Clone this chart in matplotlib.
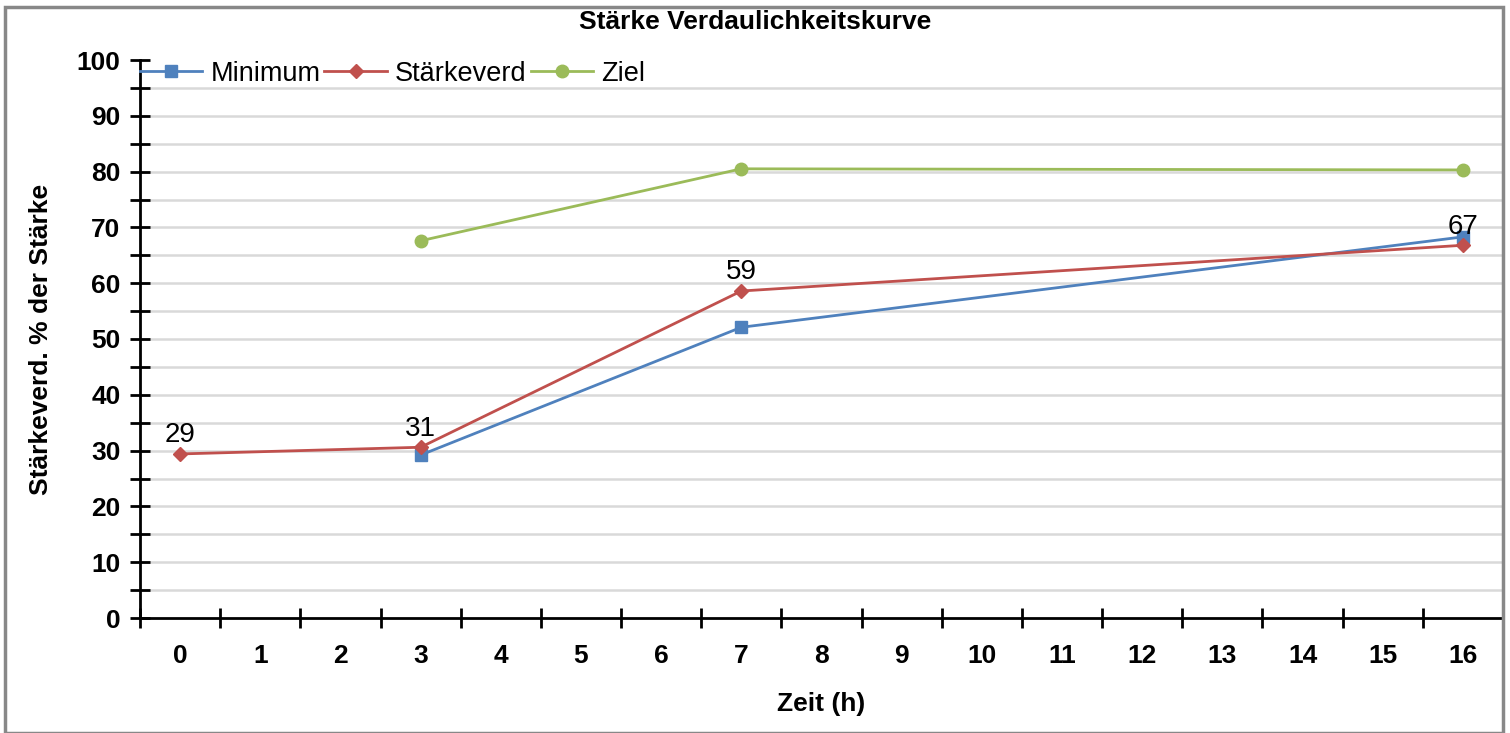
import matplotlib
matplotlib.use("Agg")
import matplotlib.pyplot as plt
from matplotlib.patches import Rectangle
import numpy as np

plt.rcParams['font.family'] = ['Liberation Sans', 'DejaVu Sans']

categories = ['0', '1', '2', '3', '4', '5', '6', '7', '8', '9', '10', '11', '12', '13', '14', '15', '16']
minimum_idx = [3, 7, 16]
minimum_val = [29.2, 52.1, 68.3]
staerke_idx = [0, 3, 7, 16]
staerke_val = [29.4, 30.6, 58.6, 66.8]
ziel_idx = [3, 7, 16]
ziel_val = [67.6, 80.5, 80.3]

W, H = 1510, 733
fig = plt.figure(figsize=(W / 100, H / 100), dpi=100)
ax = fig.add_axes([140 / W, 1 - 618 / H, (1503 - 140) / W, (618 - 60) / H])

blue = '#4F81BD'
red = '#C0504D'
green = '#9BBB59'

ax.plot(minimum_idx, minimum_val, color=blue, lw=2, marker='s', ms=9, label='Minimum', zorder=3)
ax.plot(staerke_idx, staerke_val, color=red, lw=2, marker='D', ms=7, label='Stärkeverd', zorder=4)
ax.plot(ziel_idx, ziel_val, color=green, lw=2, marker='o', ms=9, label='Ziel', zorder=3)

for xi, v in zip(staerke_idx, staerke_val):
    ax.annotate(f'{v:.0f}', (xi, v), textcoords='offset points', xytext=(0, 13.5),
                ha='center', va='center', fontsize=20, zorder=5)

ax.set_xlim(-0.5, len(categories) - 0.5)
ax.set_ylim(0, 100)

ax.set_xticks(np.arange(len(categories)))
ax.set_xticklabels(categories, fontsize=19, fontweight='bold')
ax.set_xticks(np.arange(-0.5, len(categories) - 1, 1), minor=True)
ax.tick_params(axis='x', which='major', length=0, pad=19)
ax.tick_params(axis='x', which='minor', length=14, width=2, direction='inout', color='black')

ax.set_yticks(np.arange(0, 101, 10))
ax.set_yticklabels([str(v) for v in range(0, 101, 10)], fontsize=19, fontweight='bold')
ax.set_yticks(np.arange(5, 100, 10), minor=True)
ax.tick_params(axis='y', which='both', length=14, width=2, direction='inout', color='black', pad=7)

for g in np.arange(5, 100, 5):
    ax.axhline(g, color='#D9D9D9', lw=1.8, zorder=0)

for s in ['top', 'right']:
    ax.spines[s].set_visible(False)
for s in ['left', 'bottom']:
    ax.spines[s].set_linewidth(2)
    ax.spines[s].set_color('black')

ax.set_xlabel('Zeit (h)', fontsize=19, fontweight='bold', labelpad=17)
ax.set_ylabel('Stärkeverd. % der Stärke', fontsize=19, fontweight='bold', labelpad=17)

fig.text(755 / W, 1 - 22 / H, 'Stärke Verdaulichkeitskurve', ha='center', va='center',
         fontsize=19, fontweight='bold')

leg = ax.legend(loc='center left', bbox_to_anchor=(0.0, 0.975), ncol=3, frameon=False,
                fontsize=19.5, handlelength=2.3, handletextpad=0.3, columnspacing=0.15,
                borderaxespad=0, borderpad=0)

fig.patches.append(Rectangle((5 / W, 0), (1503 - 5) / W, 1 - 7 / H, transform=fig.transFigure,
                             fill=False, edgecolor='#888888', lw=2.5, zorder=10))

fig.savefig('out.png', dpi=100)
